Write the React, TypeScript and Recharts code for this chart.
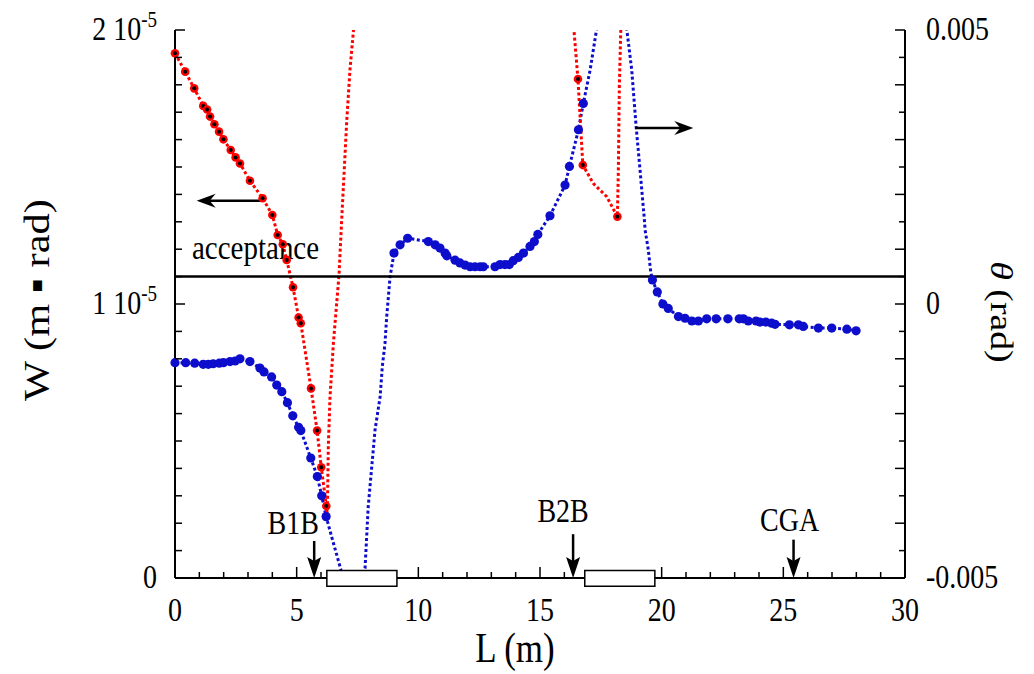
import { ComposedChart, Line, Scatter, XAxis, YAxis, ReferenceLine, ReferenceArea } from 'recharts';

const FONT = '"Liberation Serif", "Times New Roman", serif';
// the source figure is a bit stretched vertically, so text gets the same squeeze
const SY = 1.18;
const RED = '#ff0000';
const BLUE = '#0d0dcc';

// W in units of 1e-6 m·rad (left axis). points drawn with a marker
const redMarkL = [0, 0.42, 0.79, 1.16, 1.32, 1.44, 1.62, 1.81, 1.99, 2.29, 2.49, 2.67, 3.08, 3.6, 4.0, 4.22, 4.43, 4.59, 4.85, 5.08, 5.17, 5.59, 5.84, 6.01, 6.22, 16.56, 16.76, 18.18];
const redMarkW = [19.15, 18.48, 17.87, 17.23, 17.1, 16.84, 16.56, 16.29, 16.01, 15.62, 15.35, 15.13, 14.5, 13.86, 13.25, 12.52, 12.18, 11.61, 10.61, 9.51, 9.3, 6.92, 5.38, 4.04, 2.63, 18.21, 15.07, 13.19];
// curve points without a marker (some run off the top of the frame)
const redCurveL = [6.26, 6.3, 6.37, 6.51, 6.74, 6.85, 7.06, 7.19, 7.33, 7.45, 16.33, 16.4, 17.19, 17.74, 18.22, 18.26, 18.32, 18.35];
const redCurveW = [2.3, 4.8, 6.6, 8.58, 11.06, 13.07, 16.72, 18.54, 19.94, 22, 22, 19.94, 14.4, 13.92, 14.9, 17.93, 20.0, 22];

// theta in mrad (right axis)
const blueMarkL = [0, 0.44, 0.81, 1.16, 1.37, 1.57, 1.82, 1.99, 2.26, 2.47, 2.67, 3.08, 3.49, 3.66, 3.97, 4.18, 4.39, 4.62, 4.84, 5.08, 5.17, 5.58, 5.85, 6.03, 6.21,
  9.0, 9.25, 9.56, 10.41, 10.69, 10.89, 11.1, 11.17, 11.51, 11.71, 11.92, 12.13, 12.33, 12.54, 12.67, 13.15, 13.36, 13.56, 13.74, 13.9, 14.11, 14.32, 14.59, 14.77, 14.91, 15.41, 16.03, 16.21, 16.58, 16.78,
  19.62, 19.82, 20.05, 20.27, 20.69, 20.96, 21.24, 21.51, 21.85, 22.24, 22.72, 23.19, 23.36, 23.56, 23.88, 24.04, 24.28, 24.52, 24.66, 25.25, 25.62, 25.82, 26.44, 26.99, 27.61, 27.99];
const blueMarkT = [-1.07, -1.07, -1.08, -1.1, -1.1, -1.09, -1.08, -1.07, -1.05, -1.04, -1.0, -1.05, -1.17, -1.24, -1.33, -1.48, -1.6, -1.8, -2.04, -2.25, -2.31, -2.81, -3.15, -3.5, -3.88,
  0.93, 1.08, 1.2, 1.14, 1.08, 1.02, 0.93, 0.88, 0.8, 0.75, 0.71, 0.68, 0.68, 0.68, 0.68, 0.68, 0.72, 0.72, 0.72, 0.79, 0.85, 0.93, 1.05, 1.14, 1.27, 1.61, 2.17, 2.51, 3.18, 3.66,
  0.44, 0.22, 0.0, -0.08, -0.23, -0.26, -0.31, -0.31, -0.27, -0.27, -0.27, -0.27, -0.27, -0.31, -0.31, -0.33, -0.33, -0.35, -0.37, -0.38, -0.38, -0.41, -0.44, -0.44, -0.46, -0.49];
const blueCurveL = [6.44, 6.78, 7.3, 7.81, 7.94, 8.22, 8.43, 8.52, 8.63, 8.7, 8.84, 17.06, 17.3, 17.9, 18.57, 18.77, 18.95, 19.11, 19.28, 19.32, 19.45, 19.55];
const blueCurveT = [-4.25, -4.79, -5.6, -4.82, -3.7, -2.3, -1.69, -1.14, -0.72, -0.23, 0.5, 4.27, 4.94, 6.5, 5.0, 4.27, 3.24, 2.45, 1.59, 1.35, 0.99, 0.59];

const acceptance = 11;
// magnets (boxes on the beam line) and monitor positions
const magnetFrom = [6.24, 16.84];
const magnetTo = [9.12, 19.72];
const markerNames = ['B1B', 'B2B', 'CGA'];
const markerL = [5.72, 16.36, 25.42];
const markerTop = [1.35, 1.6, 1.4];
const markerTextDx = [-21, -10, -4];
const markerTextDy = [-7, -12, -9];

const xTicks = Array.from({ length: 31 }, (_, i) => i);
const leftTicks = Array.from({ length: 21 }, (_, i) => i);
const rightTicks = Array.from({ length: 21 }, (_, i) => -5 + i * 0.5);

const pts = (ls: number[], vs: number[]) => ls.map((L, i) => ({ L, v: vs[i] }));
const redDots = pts(redMarkL, redMarkW);
const redPath = [...redDots, ...pts(redCurveL, redCurveW)].sort((a, b) => a.L - b.L);
const blueDots = pts(blueMarkL, blueMarkT);
const bluePath = [...blueDots, ...pts(blueCurveL, blueCurveT)].sort((a, b) => a.L - b.L);

// ticks covered by the magnet boxes are not visible in the original
const underMagnet = (v: number) => magnetFrom.some((f, i) => v > f && v < magnetTo[i]);

const Txt = ({ x, y, size, anchor = 'middle', rotate = 0, children }: any) => (
  <text transform={`translate(${x},${y}) scale(1,${SY}) rotate(${rotate})`} fontSize={size} fontFamily={FONT} textAnchor={anchor} fill="#000">
    {children}
  </text>
);

const BottomTick = ({ x, y, payload }: any) => {
  const v = payload.value;
  const major = v % 5 === 0;
  return (
    <g>
      {!underMagnet(v) && <line x1={x} x2={x} y1={y} y2={y - (major ? 11 : 6)} stroke="#000" strokeWidth={1.5} />}
      {major && <Txt x={x} y={y + 43} size={28}>{v}</Txt>}
    </g>
  );
};

const TopTick = ({ x, y, payload }: any) => {
  const major = payload.value % 5 === 0;
  return <line x1={x} x2={x} y1={y} y2={y + (major ? 11 : 6)} stroke="#000" strokeWidth={1.5} />;
};

const LeftTick = ({ x, y, payload }: any) => {
  const v = payload.value;
  const labelled = v % 10 === 0;
  return (
    <g>
      <line x1={x} x2={x + (labelled ? 10 : 7)} y1={y} y2={y} stroke="#000" strokeWidth={1.5} />
      {labelled && (
        <Txt x={x - 18} y={y + 10} size={28} anchor="end">
          {v === 0 ? '0' : `${v / 10} 10`}
          {v !== 0 && <tspan dy={-11} fontSize={19}>-5</tspan>}
        </Txt>
      )}
    </g>
  );
};

const RightTick = ({ x, y, payload }: any) => {
  const v = payload.value;
  const labelled = v === 0 || Math.abs(v) === 5;
  const major = Number.isInteger(v);
  return (
    <g>
      <line x1={x} x2={x - (major ? 10 : 6)} y1={y} y2={y} stroke="#000" strokeWidth={1.5} />
      {labelled && <Txt x={x + 21} y={y + 10} size={28} anchor="start">{v === 0 ? '0' : (v / 1000).toFixed(3)}</Txt>}
    </g>
  );
};

// horizontal arrow: segment runs tail -> tip
const HArrow = ({ x1, y1, x2, y2 }: any) => {
  const dir = Math.sign(x2 - x1);
  const bx = x2 - dir * 19;
  return (
    <g>
      <line x1={x1} y1={y1} x2={x2 - dir * 10} y2={y2} stroke="#000" strokeWidth={2.5} />
      <path d={`M${x2},${y2} L${bx},${y2 - 7} L${bx + dir * 6},${y2} L${bx},${y2 + 7} Z`} fill="#000" />
    </g>
  );
};

const VArrow = ({ x1, y1, x2, y2, name, dx, dy }: any) => (
  <g>
    <line x1={x1} y1={y1} x2={x2} y2={y2 - 12} stroke="#000" strokeWidth={2.5} />
    <path d={`M${x2},${y2} L${x2 - 7},${y2 - 21} L${x2},${y2 - 17} L${x2 + 7},${y2 - 21} Z`} fill="#000" />
    <Txt x={x1 + dx} y={y1 + dy} size={28}>{name}</Txt>
  </g>
);

const AcceptanceLine = ({ x1, y1, x2, y2 }: any) => (
  <g>
    <line x1={x1} y1={y1} x2={x2} y2={y2} stroke="#000" strokeWidth={2.5} />
    <Txt x={x1 + 17} y={y1 - 18} size={29} anchor="start">acceptance</Txt>
  </g>
);

const RedMark = ({ cx, cy }: any) => (
  <g>
    <circle cx={cx} cy={cy} r={4.3} fill={RED} />
    <circle cx={cx} cy={cy} r={2} fill="#000" />
  </g>
);
const BlueMark = ({ cx, cy }: any) => <circle cx={cx} cy={cy} r={4.6} fill={BLUE} />;

export default function App() {
  return (
    <div style={{ position: 'absolute', left: 0, top: 0, background: '#fff' }}>
      <ComposedChart width={1034} height={674} margin={{ top: 30, right: 0, bottom: 0, left: 0 }}>
        <XAxis
          dataKey="L" type="number" domain={[0, 30]} ticks={xTicks} interval={0}
          height={96} tickSize={0} tickMargin={0} tickLine={false} tick={<BottomTick />}
          axisLine={{ stroke: '#000', strokeWidth: 2 }}
          label={(p: any) => {
            const vb = p.viewBox;
            return <Txt x={vb.x + vb.width / 2 - 25} y={vb.y + 84} size={35}>L (m)</Txt>;
          }}
        />
        <XAxis
          xAxisId="top" orientation="top" dataKey="L" type="number" domain={[0, 30]} allowDataOverflow
          ticks={xTicks} interval={0} height={0} tickSize={0} tickMargin={0} tickLine={false} tick={<TopTick />}
          axisLine={{ stroke: '#000', strokeWidth: 2 }}
        />
        <YAxis
          yAxisId="left" dataKey="v" type="number" domain={[0, 20]} allowDataOverflow
          ticks={leftTicks} interval={0} width={175} tickSize={0} tickMargin={0} tickLine={false} tick={<LeftTick />}
          axisLine={{ stroke: '#000', strokeWidth: 2 }}
          label={(p: any) => {
            const vb = p.viewBox;
            return <Txt x={49} y={vb.y + 270} size={36} rotate={-90}>W  (m {'\u25AA'} rad)</Txt>;
          }}
        />
        <YAxis
          yAxisId="right" orientation="right" dataKey="v" type="number" domain={[-5, 5]} allowDataOverflow
          ticks={rightTicks} interval={0} width={129} tickSize={0} tickMargin={0} tickLine={false} tick={<RightTick />}
          axisLine={{ stroke: '#000', strokeWidth: 2 }}
          label={(p: any) => {
            const vb = p.viewBox;
            return (
              <Txt x={vb.x + 86} y={vb.y + 282} size={32} rotate={90}>
                <tspan fontStyle="italic">{'\u03B8'}</tspan> (rad)
              </Txt>
            );
          }}
        />
        {/* marker layers use their own unclipped axes so edge dots are not cut */}
        <YAxis yAxisId="leftDots" hide dataKey="v" type="number" domain={[0, 20]} />
        <YAxis yAxisId="rightDots" hide dataKey="v" type="number" domain={[-5, 5]} />

        <Line data={bluePath} yAxisId="right" dataKey="v" stroke={BLUE} strokeWidth={3} strokeDasharray="3 2.5" dot={false} isAnimationActive={false} />
        <Scatter data={blueDots} yAxisId="rightDots" dataKey="v" shape={<BlueMark />} isAnimationActive={false} />
        <Line data={redPath} yAxisId="left" dataKey="v" stroke={RED} strokeWidth={3} strokeDasharray="3 2.5" dot={false} isAnimationActive={false} />
        <Scatter data={redDots} yAxisId="leftDots" dataKey="v" shape={<RedMark />} isAnimationActive={false} />

        <ReferenceLine yAxisId="left" y={acceptance} shape={(p: any) => <AcceptanceLine {...p} />} />
        <ReferenceLine yAxisId="left" segment={[{ x: 3.56, y: 13.77 }, { x: 0.89, y: 13.77 }]} shape={(p: any) => <HArrow {...p} />} ifOverflow="visible" />
        <ReferenceLine yAxisId="left" segment={[{ x: 18.91, y: 16.42 }, { x: 21.3, y: 16.42 }]} shape={(p: any) => <HArrow {...p} />} ifOverflow="visible" />
        {markerNames.map((name, i) => (
          <ReferenceLine
            key={name} yAxisId="left" ifOverflow="visible"
            segment={[{ x: markerL[i], y: markerTop[i] }, { x: markerL[i], y: 0 }]}
            shape={(p: any) => <VArrow {...p} name={name} dx={markerTextDx[i]} dy={markerTextDy[i]} />}
          />
        ))}
        {magnetFrom.map((from, i) => (
          <ReferenceArea
            key={from} yAxisId="left" x1={from} x2={magnetTo[i]} y1={-0.3} y2={0.27}
            fill="#fff" fillOpacity={1} stroke="#000" strokeWidth={1.5} ifOverflow="visible" zIndex={1000}
          />
        ))}
      </ComposedChart>
    </div>
  );
}
